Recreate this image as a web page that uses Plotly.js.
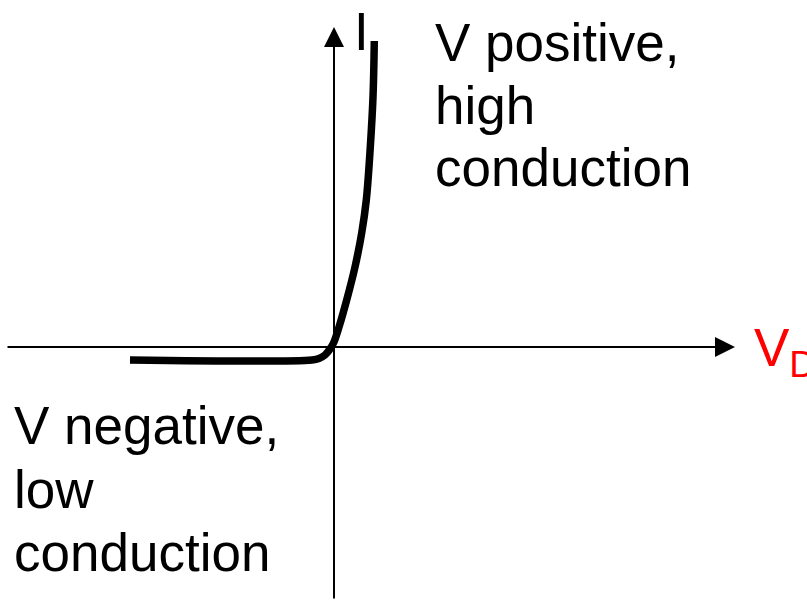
<!DOCTYPE html>
<html>
<head>
<meta charset="utf-8">
<script src="https://cdn.plot.ly/plotly-3.0.1.min.js"></script>
<style>html,body{margin:0;padding:0;background:#fff;} #chart{width:807px;height:600px;}</style>
</head>
<body>
<div id="chart"></div>
<script>
// Diode I-V characteristic (arbitrary units; origin at the axes crossing)
const voltage = [-2.04, -0.22, -0.15, -0.09, -0.04, -0.005, 0.05, 0.127, 0.21, 0.277, 0.323, 0.363, 0.39, 0.403];
const current = [-0.13, -0.13, -0.115, -0.08, -0.02, 0.04, 0.20, 0.47, 0.80, 1.14, 1.47, 2.00, 2.50, 3.06];

// Axis extents (data units)
const xAxisStart = -3.28, xAxisTip = 4.01;
const yAxisStart = -2.53, yAxisTip = 3.20;

// Labels
const posLabel = ["V positive,", "high", "conduction"];
const negLabel = ["V negative,", "low", "conduction"];
const yLabel = "I";
const xLabel = "V<sub>D</sub>";

const font = {family: "Arial, 'Liberation Sans', sans-serif", size: 53, color: "#000"};

const annotations = [];
// axis arrows
annotations.push({x: xAxisTip, y: 0, ax: xAxisStart, ay: 0, xref: 'x', yref: 'y', axref: 'x', ayref: 'y',
  showarrow: true, text: '', arrowhead: 2, arrowsize: 2, arrowwidth: 2, arrowcolor: '#000'});
annotations.push({x: 0, y: yAxisTip, ax: 0, ay: yAxisStart, xref: 'x', yref: 'y', axref: 'x', ayref: 'y',
  showarrow: true, text: '', arrowhead: 2, arrowsize: 2, arrowwidth: 2, arrowcolor: '#000'});

const posY = [3.36, 2.733, 2.11];
posLabel.forEach((t, i) => annotations.push({x: 0.99, y: posY[i], xref: 'x', yref: 'y', text: t,
  showarrow: false, xanchor: 'left', yanchor: 'top', font: font}));
const negY = [-0.47, -1.105, -1.74];
negLabel.forEach((t, i) => annotations.push({x: -3.225, y: negY[i], xref: 'x', yref: 'y', text: t,
  showarrow: false, xanchor: 'left', yanchor: 'top', font: font}));
annotations.push({x: 0.18, y: 3.47, xref: 'x', yref: 'y', text: yLabel, showarrow: false,
  xanchor: 'left', yanchor: 'top', font: font});
annotations.push({x: 4.18, y: 0.31, xref: 'x', yref: 'y', text: xLabel, showarrow: false,
  xanchor: 'left', yanchor: 'top', font: Object.assign({}, font, {color: '#ff0000'})});

const trace = {x: voltage, y: current, mode: 'lines', line: {color: '#000', width: 7.5, shape: 'spline', smoothing: 1},
  hoverinfo: 'skip', cliponaxis: false};

const hidden = {visible: false, showgrid: false, zeroline: false, fixedrange: true};
const layout = {
  width: 807, height: 600,
  margin: {l: 0, r: 0, t: 0, b: 0},
  paper_bgcolor: '#fff', plot_bgcolor: '#fff',
  showlegend: false,
  xaxis: Object.assign({range: [-3.34, 4.73]}, hidden),
  yaxis: Object.assign({range: [-2.53, 3.47]}, hidden),
  annotations: annotations
};
Plotly.newPlot('chart', [trace], layout, {displayModeBar: false, staticPlot: true});
</script>
</body>
</html>
